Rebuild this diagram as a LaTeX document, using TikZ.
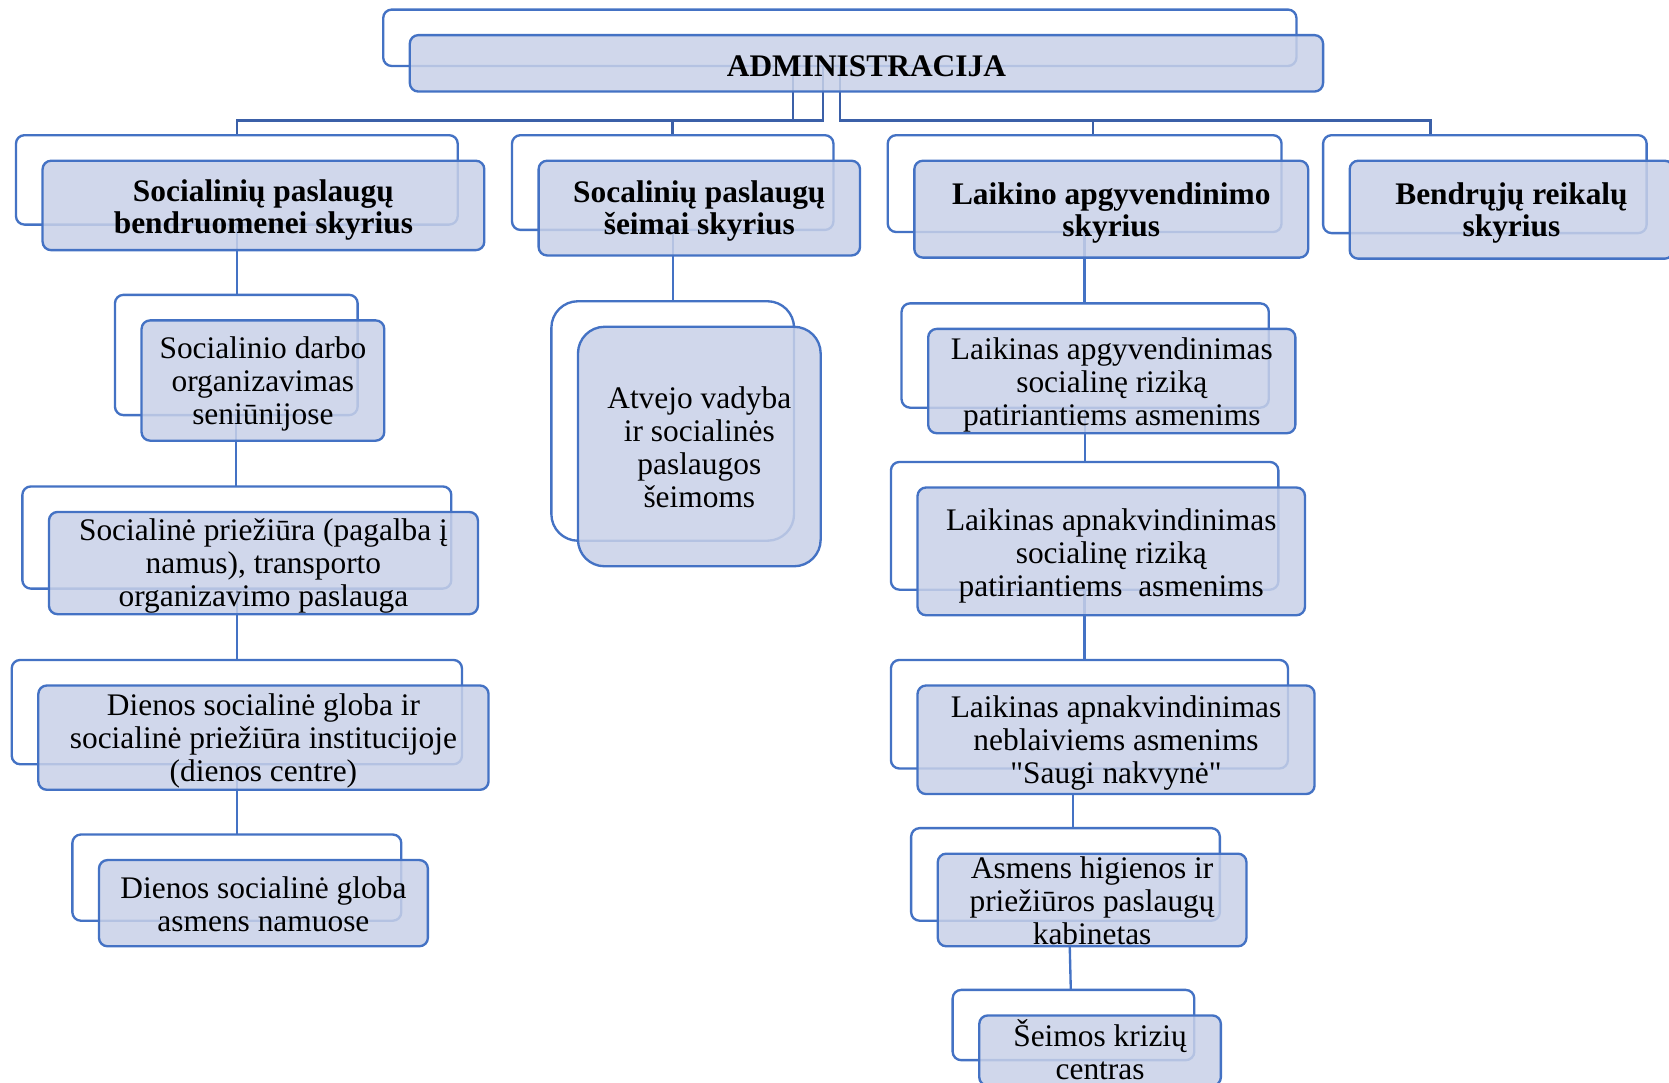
\documentclass[tikz,border=0pt]{standalone}
\usepackage{fontspec}
\setmainfont{Liberation Serif}
\newfontfamily\plainquote{Liberation Serif}
\usetikzlibrary{calc}
\definecolor{ln}{RGB}{68,114,196}
\definecolor{lndark}{RGB}{59,96,168}
\definecolor{fl}{RGB}{200,209,232}
\pgfdeclarelayer{bg}
\pgfsetlayers{bg,main}
\tikzset{
  backbox/.style={draw=ln, line width=2.2pt, fill=white, rounded corners=8pt, inner sep=0pt, outer sep=0pt},
  frontbox/.style={draw=ln, line width=2.2pt, fill=fl, fill opacity=0.85,
     rounded corners=8pt, inner sep=0pt, outer sep=0pt},
  boxtext/.style={align=center, inner sep=0pt, font=\fontsize{29.5}{31}\selectfont},
  titletext/.style={font=\fontsize{29.5}{30}\selectfont\bfseries},
  biground/.style={rounded corners=25pt},
  conn/.style={draw=ln, line width=2.2pt},
  topconn/.style={draw=lndark, line width=2.4pt},
}
% #1 box style, #2 name, #3 x1, #4 y1, #5 x2, #6 y2 (front box), #7 text style, #8 text shift, #9 text
\newcommand\orgbox[9]{%
  \node[backbox,#1,minimum width={#5-#3},minimum height={#6-#4}] (b#2) at ({(#3+#5)/2-25},{(#4+#6)/2-24}) {};
  \node[frontbox,#1,minimum width={#5-#3},minimum height={#6-#4}] (f#2) at ({(#3+#5)/2},{(#4+#6)/2}) {};
  \node[boxtext,#7] (t#2) at ({(#3+#5)/2},{(#4+#6)/2+#8}) {#9};
}
\newcommand\sq{{\plainquote"}}
\begin{document}
\begin{tikzpicture}[x=1pt,y=-1pt]
\useasboundingbox (0,0) rectangle (1568,1017);
\begin{pgfonlayer}{bg}
  \fill[white] (0,0) rectangle (1568,1017);
\end{pgfonlayer}

\orgbox{}{A}{385}{33}{1243}{86}{titletext}{3}{ADMINISTRACIJA}

\orgbox{}{c1}{40}{151}{455}{235}{titletext}{4}{Socialinių paslaugų\\bendruomenei skyrius}
\orgbox{}{c2}{506}{151}{808}{240}{titletext}{3}{Socalinių paslaugų\\šeimai skyrius}
\orgbox{}{c3}{859}{151}{1229}{242}{titletext}{4}{Laikino apgyvendinimo\\skyrius}
\orgbox{}{c4}{1268}{151}{1572}{243}{titletext}{3}{Bendrųjų reikalų\\skyrius}

\orgbox{}{s1a}{133}{301}{361}{414}{}{3.5}{Socialinio darbo\\organizavimas\\seniūnijose}
\orgbox{}{s1b}{46}{481}{449}{577}{}{3}{Socialinė priežiūra (pagalba į\\namus), transporto\\organizavimo paslauga}
\orgbox{}{s1c}{36}{644}{459}{742}{}{3}{Dienos socialinė globa ir\\socialinė priežiūra institucijoje\\(dienos centre)}
\orgbox{}{s1d}{93}{808}{402}{889}{}{1}{Dienos socialinė globa\\asmens namuose}

\orgbox{biground}{s2a}{543}{307}{771}{532}{}{1}{Atvejo vadyba\\ir socialinės\\paslaugos\\šeimoms}

\orgbox{}{s3a}{872}{309}{1217}{407}{}{3.5}{Laikinas apgyvendinimas\\socialinę riziką\\patiriantiems asmenims}
\orgbox{}{s3b}{862}{458}{1226}{578}{}{4}{Laikinas apnakvindinimas\\socialinę riziką\\patiriantiems\ \ asmenims}
\orgbox{}{s3c}{862}{644}{1235}{746}{}{3}{Laikinas apnakvindinimas\\neblaiviems asmenims\\\sq Saugi nakvynė\sq}
\orgbox{}{s3d}{881}{802}{1171}{889}{}{1}{Asmens higienos ir\\priežiūros paslaugų\\kabinetas}
\orgbox{}{s3e}{920}{954}{1147}{1020}{}{-1}{Šeimos krizių\\centras}

\begin{pgfonlayer}{bg}
  % administration to departments
  \draw[topconn] (bA.south -| 745,0) -- (745,113) -| (bc1.north);
  \draw[topconn] (bA.south -| 773,0) -- (773,113) -| (bc2.north);
  \draw[topconn] (bA.south -| 789,0) -- (789,113) -| (bc3.north -| 1027,0);
  \draw[topconn] (789,113) -| (bc4.north -| 1344,0);
  % first department
  \draw[conn] (bc1.south) -- (bc1.south |- bs1a.north);
  \draw[conn] (bs1a.south) -- (bs1a.south |- bs1b.north);
  \draw[conn] (bs1b.south) -- (bs1b.south |- bs1c.north);
  \draw[conn] (bs1c.south) -- (bs1c.south |- bs1d.north);
  % second department
  \draw[conn] (bc2.south) -- (bc2.south |- bs2a.north);
  % third department
  \draw[conn] (bc3.south) -- (bc3.south |- bs3a.north);
  \draw[conn] (bs3a.south) -- (bs3a.south |- bs3b.north);
  \draw[conn] (bs3b.south) -- (bs3b.south |- bs3c.north);
  \draw[conn] (fs3c.south -| 1008,0) -- (bs3d.north -| 1008,0);
  \draw[conn] (fs3d.south -| 1005,0) -- (bs3e.north -| 1006,0);
\end{pgfonlayer}
\end{tikzpicture}
\end{document}
